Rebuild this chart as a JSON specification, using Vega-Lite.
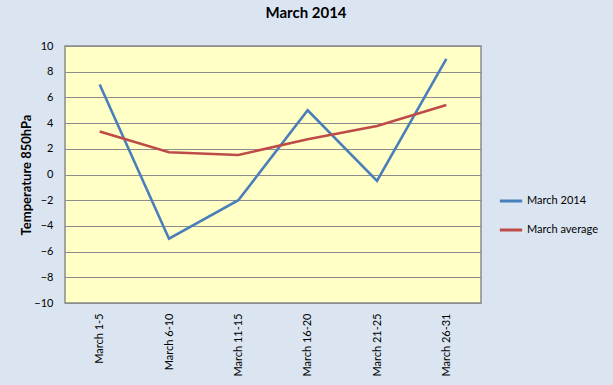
{
  "$schema": "https://vega.github.io/schema/vega-lite/v6.json",
  "autosize": {"type": "none"},
  "width": 416,
  "height": 257,
  "padding": {"left": 65, "top": 46, "right": 132, "bottom": 82},
  "background": "#DBE5F1",
  "title": {
    "text": "March 2014",
    "anchor": "middle",
    "dx": 33,
    "offset": 19,
    "font": "Lato",
    "fontSize": 15,
    "fontWeight": "bold",
    "color": "#000000"
  },
  "data": {
    "values": [
      {"period": "March 1-5", "series": "March 2014", "temp": 7},
      {"period": "March 6-10", "series": "March 2014", "temp": -5},
      {"period": "March 11-15", "series": "March 2014", "temp": -2},
      {"period": "March 16-20", "series": "March 2014", "temp": 5},
      {"period": "March 21-25", "series": "March 2014", "temp": -0.5},
      {"period": "March 26-31", "series": "March 2014", "temp": 9},
      {"period": "March 1-5", "series": "March average", "temp": 3.35},
      {"period": "March 6-10", "series": "March average", "temp": 1.73},
      {"period": "March 11-15", "series": "March average", "temp": 1.52},
      {"period": "March 16-20", "series": "March average", "temp": 2.74},
      {"period": "March 21-25", "series": "March average", "temp": 3.77},
      {"period": "March 26-31", "series": "March average", "temp": 5.4}
    ]
  },
  "mark": {"type": "line", "strokeWidth": 2.6, "strokeJoin": "miter"},
  "encoding": {
    "x": {
      "field": "period",
      "type": "ordinal",
      "sort": null,
      "scale": {"type": "point", "padding": 0.5},
      "axis": {
        "title": null,
        "labelAngle": -90,
        "labelPadding": 10,
        "ticks": false,
        "domain": false,
        "grid": false,
        "labelFont": "Lato",
        "labelFontSize": 11,
        "labelColor": "#000000"
      }
    },
    "y": {
      "field": "temp",
      "type": "quantitative",
      "scale": {"domain": [-10, 10], "nice": false, "zero": false},
      "axis": {
        "title": "Temperature 850hPa",
        "titleFont": "Lato",
        "titleFontSize": 13,
        "titleFontWeight": "bold",
        "titleColor": "#000000",
        "titlePadding": 0,
        "values": [-10, -8, -6, -4, -2, 0, 2, 4, 6, 8, 10],
        "labelFont": "Lato",
        "labelFontSize": 11,
        "labelColor": "#000000",
        "labelPadding": 12,
        "ticks": false,
        "domain": false,
        "grid": true,
        "gridColor": "#8C8C8C",
        "gridWidth": 1
      }
    },
    "color": {
      "field": "series",
      "type": "nominal",
      "scale": {"domain": ["March 2014", "March average"], "range": ["#4A7EBB", "#BE4B48"]},
      "legend": {
        "title": null,
        "orient": "none",
        "legendX": 433,
        "legendY": 142,
        "symbolType": "stroke",
        "symbolStrokeWidth": 3,
        "symbolSize": 500,
        "rowPadding": 10,
        "labelFont": "Lato",
        "labelFontSize": 11,
        "labelColor": "#000000",
        "labelOffset": 3
      }
    }
  },
  "config": {
    "view": {"fill": "#FFFFC6", "stroke": "#8C8C8C", "strokeWidth": 1.5}
  }
}
